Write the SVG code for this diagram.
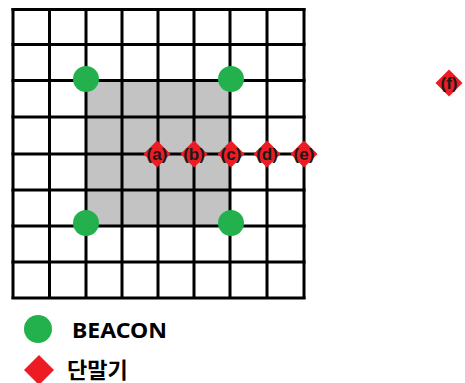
<svg xmlns="http://www.w3.org/2000/svg" width="465" height="383" viewBox="0 0 465 383">
<style>
.grid line{stroke:#000;stroke-width:3}
.beacon{fill:#22b14c}
.term{fill:#ed1c24}
.lbl{font-family:"Liberation Sans",Arial,sans-serif;font-size:17px;font-weight:bold;fill:#1a1a1a;text-anchor:middle}
.leg{font-family:"Noto Sans","Noto Sans CJK KR",sans-serif;font-weight:bold;fill:#000}
</style>
<defs>
<polygon id="dia" points="0,-13.5 13.5,0 0,13.5 -13.5,0"/>
</defs>
<rect width="465" height="383" fill="#fff"/>
<rect x="86" y="80.5" width="144" height="145.5" fill="#c3c3c3"/>
<g class="grid" id="grid">
<line x1="13" y1="8" x2="13" y2="299"/>
<line x1="49.5" y1="8" x2="49.5" y2="299"/>
<line x1="86" y1="8" x2="86" y2="299"/>
<line x1="122" y1="8" x2="122" y2="299"/>
<line x1="158" y1="8" x2="158" y2="299"/>
<line x1="194" y1="8" x2="194" y2="299"/>
<line x1="230" y1="8" x2="230" y2="299"/>
<line x1="267" y1="8" x2="267" y2="299"/>
<line x1="304" y1="8" x2="304" y2="299"/>
<line x1="11.5" y1="9.5" x2="305.5" y2="9.5"/>
<line x1="11.5" y1="44.5" x2="305.5" y2="44.5"/>
<line x1="11.5" y1="80.5" x2="305.5" y2="80.5"/>
<line x1="11.5" y1="117" x2="305.5" y2="117"/>
<line x1="11.5" y1="154" x2="305.5" y2="154"/>
<line x1="11.5" y1="190" x2="305.5" y2="190"/>
<line x1="11.5" y1="226" x2="305.5" y2="226"/>
<line x1="11.5" y1="262" x2="305.5" y2="262"/>
<line x1="11.5" y1="298" x2="305.5" y2="298"/>
</g>
<g id="beacon1"><circle class="beacon" cx="86" cy="79" r="13"/></g>
<g id="beacon2"><circle class="beacon" cx="231" cy="79" r="13"/></g>
<g id="beacon3"><circle class="beacon" cx="86" cy="223" r="13"/></g>
<g id="beacon4"><circle class="beacon" cx="231" cy="223" r="13"/></g>
<g id="term-a"><use href="#dia" class="term" x="157" y="154"/><text class="lbl" x="157" y="160">(a)</text></g>
<g id="term-b"><use href="#dia" class="term" x="194" y="154"/><text class="lbl" x="194" y="160">(b)</text></g>
<g id="term-c"><use href="#dia" class="term" x="231" y="154"/><text class="lbl" x="231" y="160">(c)</text></g>
<g id="term-d"><use href="#dia" class="term" x="267" y="154"/><text class="lbl" x="267" y="160">(d)</text></g>
<g id="term-e"><use href="#dia" class="term" x="304" y="154"/><text class="lbl" x="304" y="160">(e)</text></g>
<g id="term-f"><use href="#dia" class="term" x="449" y="83"/><text class="lbl" x="449" y="89">(f)</text></g>
<g id="legend">
<circle class="beacon" cx="38" cy="329" r="14"/>
<text class="leg" x="72" y="338" font-size="21" textLength="95" lengthAdjust="spacingAndGlyphs">BEACON</text>
<polygon class="term" points="39,355 54,370 39,385 24,370"/>
<text class="leg" x="67" y="378" font-size="22">단말기</text>
</g>
</svg>
